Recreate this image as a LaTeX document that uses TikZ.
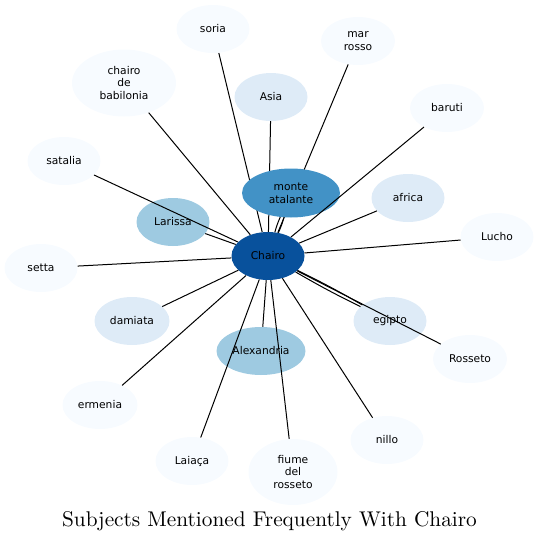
\documentclass[tikz,border=0pt]{standalone}
\usepackage{fontspec}
\newfontfamily\lblfont{DejaVu Sans}
\newfontfamily\titlefont{lmroman10-regular}[Extension=.otf]
\usetikzlibrary{shapes.geometric}
\definecolor{cA}{HTML}{08519C}
\definecolor{cB}{HTML}{4292C6}
\definecolor{cC}{HTML}{9ECAE1}
\definecolor{cD}{HTML}{DEEBF7}
\definecolor{cE}{HTML}{F7FBFF}
\pgfdeclarelayer{bg}
\pgfsetlayers{bg,main}
\tikzset{
  topic/.style={ellipse, draw=none, fill=cE, inner sep=0pt, minimum width=73pt, minimum height=48pt,
    align=center, font=\lblfont\fontsize{10.7}{12.8}\selectfont, text=black},
  link/.style={line width=1pt, black},
}
\begin{document}
\begin{tikzpicture}[x=1pt,y=-1pt]
\useasboundingbox (0,0) rectangle (539,542);
\node[topic] (soria) at (213,29) {soria};
\node[topic, minimum width=74pt] (marrosso) at (358,41) {mar\\rosso};
\node[topic, minimum width=104pt, minimum height=67pt] (babilonia) at (124,83) {chairo\\de\\babilonia};
\node[topic, fill=cD] (asia) at (271,97) {Asia};
\node[topic, minimum width=74pt] (baruti) at (447,108) {baruti};
\node[topic] (satalia) at (64,161) {satalia};
\node[topic, fill=cB, minimum width=98pt, minimum height=49pt] (monte) at (291,193) {monte\\atalante};
\node[topic, fill=cD] (africa) at (408,198) {africa};
\node[topic, fill=cC] (larissa) at (173,222) {Larissa};
\node[topic] (lucho) at (497,237) {Lucho};
\node[topic, fill=cA] (chairo) at (268,256) {Chairo};
\node[topic] (setta) at (41,268) {setta};
\node[topic, fill=cD, minimum width=75pt] (damiata) at (132,321) {damiata};
\node[topic, fill=cD] (egipto) at (390,321) {egipto};
\node[topic, fill=cC, minimum width=89pt] (alex) at (261,351) {Alexandria};
\node[topic, minimum width=74pt] (rosseto) at (470,359) {Rosseto};
\node[topic, minimum width=75pt] (ermenia) at (100,405) {ermenia};
\node[topic] (nillo) at (387,440) {nillo};
\node[topic] (laiaca) at (192,461) {Laiaça};
\node[topic, minimum width=89pt, minimum height=66pt] (fiume) at (293,472) {fiume\\del\\rosseto};
\node[font=\titlefont\fontsize{21.3}{25}\selectfont, inner sep=0pt] (title) at (269.5,521) {Subjects Mentioned Frequently With Chairo};
\begin{pgfonlayer}{bg}
  \draw[link] (chairo) -- (soria);
  \draw[link] (chairo) -- (marrosso);
  \draw[link] (chairo) -- (asia);
\end{pgfonlayer}
\draw[link] (chairo) -- (babilonia);
\draw[link] (chairo) -- (baruti);
\draw[link] (chairo) -- (satalia);
\draw[link] (chairo) to[bend left=4] (monte);
\draw[link] (chairo) to[bend right=4] (monte);
\draw[link] (chairo) -- (africa);
\draw[link] (chairo) -- (larissa);
\draw[link] (chairo) -- (lucho);
\draw[link] (chairo) -- (setta);
\draw[link] (chairo) -- (damiata);
\draw[link] (chairo) to[bend left=2] (egipto);
\draw[link] (chairo) to[bend right=2] (egipto);
\draw[link] (chairo) -- (alex);
\draw[link] (chairo) -- (rosseto);
\draw[link] (chairo) -- (ermenia);
\draw[link] (chairo) -- (nillo);
\draw[link] (chairo) -- (laiaca);
\draw[link] (chairo) -- (fiume);
\end{tikzpicture}
\end{document}
